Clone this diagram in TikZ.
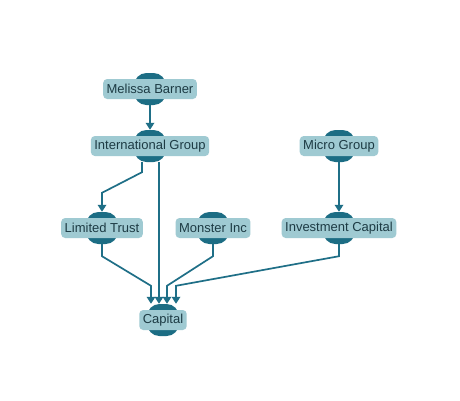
\documentclass[tikz,border=0pt]{standalone}
\usepackage{fontspec}
\setmainfont{Liberation Sans}
\usetikzlibrary{arrows.meta}
\definecolor{darkteal}{HTML}{1C6D84}
\definecolor{lightteal}{HTML}{9FCAD2}
\definecolor{edgeteal}{HTML}{1F6F87}
\definecolor{txt}{HTML}{1D3B44}
\tikzset{
  blob/.style={draw=none, fill=darkteal, rounded corners=12.5pt, minimum width=32pt, minimum height=32pt, inner sep=0pt},
  lbl/.style={draw=none, fill=lightteal, rounded corners=4pt, inner xsep=3.5pt, inner ysep=2pt, text=txt, font=\fontsize{13}{15}\selectfont, minimum height=20pt},
  edge/.style={draw=edgeteal, line width=1.7pt, -{Triangle[length=7pt,width=8.5pt]}},
}
\begin{document}
\begin{tikzpicture}[x=1pt,y=-1pt]
\path[fill=white] (0,0) rectangle (460,400);
\useasboundingbox (0,0) rectangle (460,400);
% shapes
\node[blob] (mbS) at (150,89) {};
\node[blob] (igS) at (150,146) {};
\node[blob] (mgS) at (339,146) {};
\node[blob] (ltS) at (102,228) {};
\node[blob] (miS) at (213,228) {};
\node[blob] (icS) at (339,228) {};
\node[blob] (caS) at (163,320) {};
% labels
\node[lbl] (mb) at (150,89) {Melissa Barner};
\node[lbl] (ig) at (150,146) {International Group};
\node[lbl] (mg) at (339,146) {Micro Group};
\node[lbl] (lt) at (102,228) {Limited Trust};
\node[lbl] (mi) at (213,228) {Monster Inc};
\node[lbl] (ic) at (339,228) {Investment Capital};
\node[lbl] (ca) at (163,320) {Capital};
% edges
\draw[edge] (mbS.south) -- (igS.north);
\draw[edge] (mgS.south) -- (icS.north);
\draw[edge] ([xshift=-8pt]igS.south) -- ++(0pt,-10pt) -- ([yshift=19pt]ltS.north) -- (ltS.north);
\draw[edge] ([xshift=9pt]igS.south) -- ([xshift=-4pt]caS.north);
\draw[edge] (ltS.south) -- ++(0pt,-12pt) -- ([xshift=-12pt,yshift=18pt]caS.north) -- ([xshift=-12pt]caS.north);
\draw[edge] (miS.south) -- ++(0pt,-12pt) -- ([xshift=4pt,yshift=18pt]caS.north) -- ([xshift=4pt]caS.north);
\draw[edge] (icS.south) -- ++(0pt,-12pt) -- ([xshift=13pt,yshift=18pt]caS.north) -- ([xshift=13pt]caS.north);
\end{tikzpicture}
\end{document}
